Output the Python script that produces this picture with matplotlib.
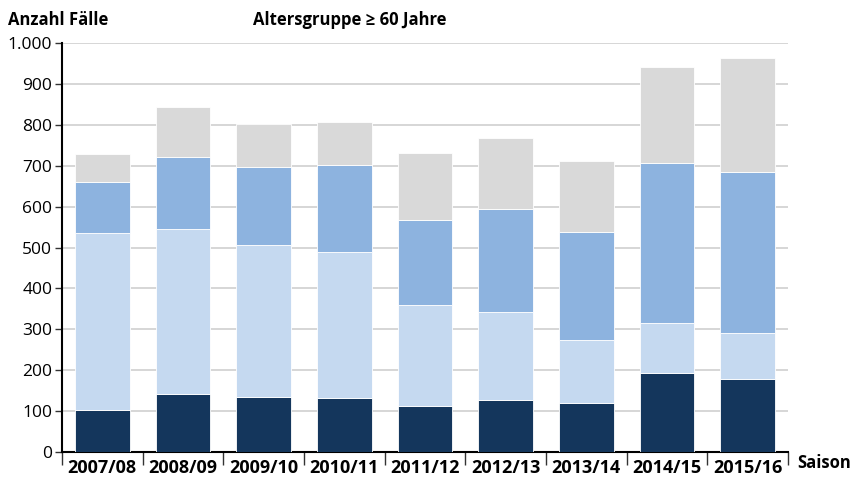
import matplotlib.pyplot as plt
import numpy as np
from matplotlib.ticker import FuncFormatter

plt.rcParams['font.family'] = ['Open Sans', 'DejaVu Sans']

seasons = ['2007/08', '2008/09', '2009/10', '2010/11', '2011/12',
           '2012/13', '2013/14', '2014/15', '2015/16']
# stacked segments (cumulative tops)
top_dark = [103, 142, 134, 132, 112, 127, 120, 193, 178]
top_light = [535, 545, 506, 489, 359, 342, 274, 315, 291]
top_mid = [660, 721, 697, 702, 567, 594, 538, 707, 685]
top_grey = [729, 843, 802, 807, 731, 768, 711, 941, 963]

dark = np.array(top_dark)
light = np.array(top_light) - dark
mid = np.array(top_mid) - np.array(top_light)
grey = np.array(top_grey) - np.array(top_mid)

colors = ['#14365c', '#c5d9f0', '#8db3df', '#d9d9d9']

fig = plt.figure(figsize=(8.54, 4.8), dpi=100)
ax = fig.add_axes([0.0726, 0.0583, 0.8501, 0.852])

x = np.arange(len(seasons))
w = 0.675
bottom = np.zeros(len(seasons))
for vals, c in zip([dark, light, mid, grey], colors):
    ax.bar(x, vals, w, bottom=bottom, color=c, edgecolor='white', linewidth=0.6, zorder=3)
    bottom = bottom + vals

ax.set_xlim(-0.5, len(seasons) - 0.5)
ax.set_ylim(0, 1000)
ax.set_yticks(range(0, 1001, 100))
ax.yaxis.set_major_formatter(FuncFormatter(lambda v, p: f'{int(v):,}'.replace(',', '.')))
ax.grid(axis='y', color='#d0d0d0', linewidth=1.2, zorder=0)

ax.set_xticks(x)
ax.set_xticklabels(seasons, fontweight='bold', fontsize=13)
ax.tick_params(axis='x', length=0, pad=5)
ax.set_xticks(np.arange(-0.5, len(seasons)), minor=True)
ax.tick_params(axis='x', which='minor', length=9, width=1, color='#333333')
ax.tick_params(axis='y', length=5, width=1, labelsize=12.5, pad=2, color='#333333')

for s in ['top', 'right']:
    ax.spines[s].set_visible(False)
ax.spines['left'].set_linewidth(1.5)
ax.spines['bottom'].set_linewidth(1.5)

fig.text(0.009, 0.94, 'Anzahl Fälle', fontsize=12, fontweight='bold', va='bottom')
fig.text(0.41, 0.94, 'Altersgruppe ≥ 60 Jahre', fontsize=12, fontweight='bold',
         va='bottom', ha='center')
fig.text(0.933, 0.025, 'Saison', fontsize=12, fontweight='bold')

fig.savefig('out.png', dpi=100)
